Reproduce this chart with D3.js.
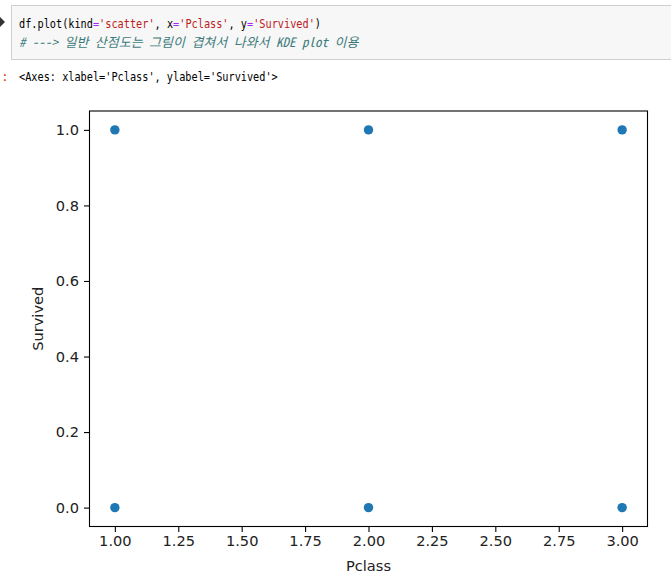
<!DOCTYPE html>
<html><head><meta charset="utf-8">
<script src="https://cdn.jsdelivr.net/npm/d3@7"></script>
<style>html,body{margin:0;padding:0;background:#fff;}svg{display:block;}</style>
</head><body>
<svg id="c" width="671" height="581"></svg>
<script>
// ---- data ----
const pclass   = [1, 1, 2, 2, 3, 3];
const survived = [1, 0, 1, 0, 1, 0];
const xTicks = [1.00, 1.25, 1.50, 1.75, 2.00, 2.25, 2.50, 2.75, 3.00];
const yTicks = [0.0, 0.2, 0.4, 0.6, 0.8, 1.0];
const xLabel = "Pclass";
const yLabel = "Survived";
const codeLine1 = [["df.plot(kind","#000"],["=","#aa22ff"],["'scatter'","#ba2121"],[", x","#000"],["=","#aa22ff"],["'Pclass'","#ba2121"],[", y","#000"],["=","#aa22ff"],["'Survived'","#ba2121"],[")","#000"]];
const codeLine2 = "# ---> 일반 산점도는 그림이 겹쳐서 나와서 KDE plot 이용";
const outLine = "<Axes: xlabel='Pclass', ylabel='Survived'>";

const svg = d3.select("#c");
const mono = "'DejaVu Sans Mono','Liberation Mono',monospace";
const fs = 13;
const sx = 6.17/(fs*0.602);

// ---- notebook cell ----
svg.append("path").attr("d","M0,17 L5,22 L0,27 Z").attr("fill","#333");
svg.append("rect").attr("x",11.5).attr("y",5.5).attr("width",680).attr("height",54)
  .attr("fill","#f7f7f7").attr("stroke","#cfcfcf");
const t1 = svg.append("g").attr("transform",`translate(19,28) scale(${sx},1)`)
  .append("text").attr("font-family",mono).attr("font-size",fs).style("white-space","pre");
codeLine1.forEach(([s,c])=>{ t1.append("tspan").attr("fill",c).text(s); });
function wunits(s){let n=0;for(const ch of s){n+= /[\u3131-\uD79D]/.test(ch)?2:1;}return n;}
svg.append("text").attr("x",19).attr("y",47).attr("font-family","'Noto Sans Mono CJK KR','DejaVu Sans Mono','Noto Sans CJK KR',monospace")
  .attr("font-size",13).attr("font-style","italic").attr("fill","#3d7b7b")
  .attr("textLength",wunits(codeLine2)*6.17).attr("lengthAdjust","spacingAndGlyphs").text(codeLine2);
svg.append("text").attr("x",1).attr("y",81).attr("font-family",mono).attr("font-size",13).attr("fill","#d84315").text(":");
svg.append("g").attr("transform",`translate(19,81) scale(${sx},1)`)
  .append("text").attr("font-family",mono).attr("font-size",fs).attr("fill","#000").text(outLine);

// ---- chart ----
const L=89.5, R=647.5, T=111, B=526.5;
const x = d3.scaleLinear().domain([0.9,3.1]).range([L,R]);
const y = d3.scaleLinear().domain([-0.05,1.05]).range([B,T]);
const font = "'DejaVu Sans',sans-serif";

const g = svg.append("g");
g.selectAll("circle").data(pclass.map((p,i)=>({p,s:survived[i]}))).join("circle")
  .attr("cx",d=>x(d.p)).attr("cy",d=>y(d.s)).attr("r",4.7).attr("fill","#1f77b4");

const xa = svg.append("g").attr("transform",`translate(0,${B})`)
  .call(d3.axisBottom(x).tickValues(xTicks).tickFormat(d3.format(".2f")).tickSize(5.5).tickPadding(4));
const ya = svg.append("g").attr("transform",`translate(${L},0)`)
  .call(d3.axisLeft(y).tickValues(yTicks).tickFormat(d3.format(".1f")).tickSize(5.5).tickPadding(5));
[xa,ya].forEach(a=>{
  a.select(".domain").remove();
  a.selectAll(".tick line").attr("stroke","#000").attr("stroke-width",1.1);
  a.selectAll(".tick text").attr("font-family",font).attr("font-size",14.6).attr("fill","#222");
});
svg.append("rect").attr("x",L).attr("y",T).attr("width",R-L).attr("height",B-T)
  .attr("fill","none").attr("stroke","#000").attr("stroke-width",1.1);

svg.append("text").attr("x",(L+R)/2).attr("y",571).attr("text-anchor","middle")
  .attr("font-family",font).attr("font-size",14.6).attr("fill","#222").text(xLabel);
svg.append("text").attr("transform",`translate(43,${(T+B)/2}) rotate(-90)`).attr("text-anchor","middle")
  .attr("font-family",font).attr("font-size",14.6).attr("fill","#222").text(yLabel);
</script>
</body></html>
